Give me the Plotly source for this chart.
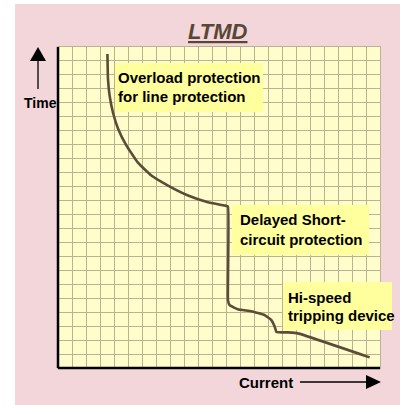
import plotly.graph_objects as go

# Tripping characteristic (grid units: 23 x 23 squares)
current = [3.53, 3.57, 3.69, 3.93, 4.29, 4.89, 5.71, 6.67, 7.86, 9.29, 10.71, 11.91,
           12.14, 12.14, 12.26, 12.84, 13.81, 14.76, 15.24, 15.48, 15.60, 16.43, 17.14, 22.26]
time = [22.5, 20.71, 19.5, 18.29, 17.14, 15.93, 14.71, 13.79, 13.07, 12.36, 11.88, 11.64,
        11.57, 4.86, 4.50, 4.21, 4.07, 3.79, 3.43, 2.95, 2.59, 2.55, 2.48, 0.76]

W, H = 400, 405
L, R, T, B = 58, 380, 47, 368          # plot area in pixels
PW, PH = R - L, B - T

def px(x):
    return (x - L) / PW

def py(y):
    return (B - y) / PH

PINK = "#F2D6DA"
PLOT_BG = "#FEFDCB"
BOX = "#FFFF9E"
GRID = "#B9B48F"
CURVE = "#5C4B36"
FONT = "Liberation Sans, Arial, sans-serif"

fig = go.Figure()
fig.add_trace(go.Scatter(x=current, y=time, mode="lines",
                         line=dict(color=CURVE, width=2.6, shape="spline", smoothing=0.3),
                         hoverinfo="skip", showlegend=False))

shapes = []
# white page edges around the pink panel
shapes.append(dict(type="rect", xref="paper", yref="paper", x0=px(0), x1=px(15), y0=py(H), y1=py(0),
                   fillcolor="white", line=dict(width=0), layer="below"))
shapes.append(dict(type="rect", xref="paper", yref="paper", x0=px(0), x1=px(W), y0=py(4), y1=py(0),
                   fillcolor="white", line=dict(width=0), layer="below"))
# label boxes
for x0, x1, y0, y1 in [(115, 263, 63, 112), (232, 369, 205, 255), (283, 392, 282, 330)]:
    shapes.append(dict(type="rect", xref="paper", yref="paper", x0=px(x0), x1=px(x1),
                       y0=py(y1), y1=py(y0), fillcolor=BOX, line=dict(width=0), layer="above"))
# black axes on left and bottom
shapes.append(dict(type="line", xref="paper", yref="paper", x0=0, x1=0, y0=0, y1=1,
                   line=dict(color="black", width=2.5)))
shapes.append(dict(type="line", xref="paper", yref="paper", x0=0, x1=1, y0=0, y1=0,
                   line=dict(color="black", width=2.5)))
# Time arrow
shapes.append(dict(type="line", xref="paper", yref="paper", x0=px(38), x1=px(38), y0=py(89), y1=py(60),
                   line=dict(color="black", width=1.3)))
shapes.append(dict(type="path", xref="paper", yref="paper",
                   path=f"M {px(30)},{py(61)} L {px(46)},{py(61)} L {px(38)},{py(47)} Z",
                   fillcolor="black", line=dict(width=0)))
# Current arrow
shapes.append(dict(type="line", xref="paper", yref="paper", x0=px(300), x1=px(367), y0=py(382), y1=py(382),
                   line=dict(color="black", width=1.3)))
shapes.append(dict(type="path", xref="paper", yref="paper",
                   path=f"M {px(366)},{py(375)} L {px(366)},{py(389)} L {px(381)},{py(382)} Z",
                   fillcolor="black", line=dict(width=0)))

def label(text, x, y, size=15, anchor="left", color="black"):
    return dict(text=text, xref="paper", yref="paper", x=px(x), y=py(y), xanchor=anchor, yanchor="middle",
                showarrow=False, font=dict(family=FONT, size=size, color=color))

annotations = [
    label("<b>Overload protection</b>", 116, 77),
    label("<b>for line protection</b>", 116, 96),
    label("<b>Delayed Short-</b>", 238, 220),
    label("<b>circuit protection</b>", 238, 239),
    label("<b>Hi-speed</b>", 286, 297),
    label("<b>tripping device</b>", 286, 315),
    label("<b>Time</b>", 40, 103, size=14, anchor="center"),
    label("<b>Current</b>", 266, 383, anchor="center"),
    label("<b><i><u>LTMD</u></i></b>", 218, 31, size=22, anchor="center", color="#5A4634"),
]

axis = dict(range=[0, 23], dtick=1, showgrid=True, gridcolor=GRID, gridwidth=1,
            showticklabels=False, ticks="", zeroline=False,
            showline=True, linecolor=GRID, linewidth=1, mirror=True, fixedrange=True)

fig.update_layout(
    width=W, height=H,
    margin=dict(l=L, r=W - R, t=T, b=H - B),
    paper_bgcolor=PINK, plot_bgcolor=PLOT_BG,
    xaxis=axis, yaxis=axis,
    shapes=shapes, annotations=annotations,
    showlegend=False,
)

fig.write_html("out.html")
